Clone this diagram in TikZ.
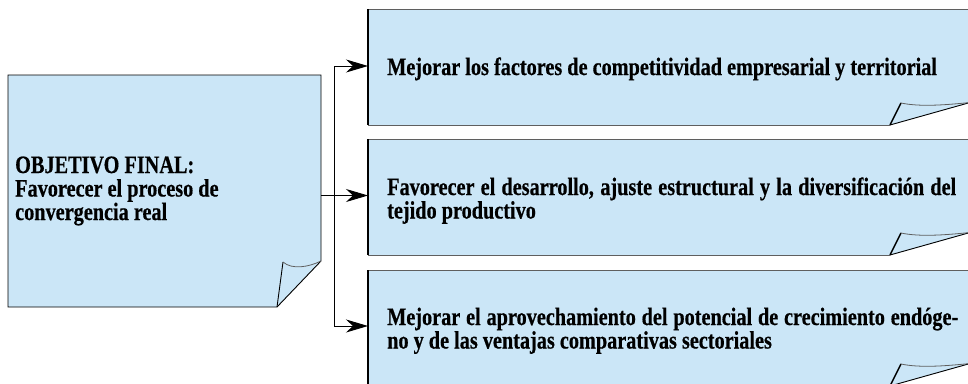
\documentclass[tikz,border=0pt]{standalone}
\usepackage{fontspec}
\setmainfont{Liberation Serif}[FakeStretch=0.81, BoldFeatures={FakeBold=0.5}]
\usetikzlibrary{arrows.meta}
\definecolor{boxfill}{RGB}{203,230,247}
\definecolor{edgegray}{RGB}{95,95,95}
\tikzset{
  pagefill/.style={fill=boxfill},
  edgethin/.style={draw=edgegray, line width=0.7pt},
  edgedark/.style={draw=black, line width=0.9pt},
  edgethick/.style={draw=black, line width=1.4pt},
  curl/.style={draw=edgegray, line width=0.8pt},
  conn/.style={draw=black, line width=0.9pt},
  arr/.style={conn, -{Stealth[length=22pt,width=13pt,inset=7pt]}},
  txt/.style={inner sep=0pt, anchor=base west, text=black,
    font=\bfseries\fontsize{25pt}{23.5pt}\selectfont},
}
\begin{document}
\begin{tikzpicture}[x=1pt,y=-1pt]
\useasboundingbox (0,0) rectangle (968,383);

% left sheet
\fill[pagefill] (8,75) -- (321,75) -- (321,261) -- (277,307) -- (8,307) -- cycle;
\draw[edgedark] (277,307) -- (8,307) -- (8,75) -- (321,75) -- (321,261) -- (277,307);
\draw[edgedark] (277,307) -- (283,262);
\draw[curl] (283,262) .. controls (292,270) and (309,267) .. (321,261);

% right sheets
\foreach \dy in {0,130,261}{
  \begin{scope}[shift={(0,\dy)}]
    \fill[pagefill] (368,9) -- (970,9) -- (970,103) -- (890,125) -- (368,125) -- cycle;
    \draw[edgethin] (368,9) -- (970,9);
    \draw[edgethin] (368,125) -- (890,125);
    \draw[edgethick] (368,9) -- (368,125);
    \draw[edgedark] (890,125) -- (970,102.5);
    \draw[edgethick] (890,125) -- (901,103);
    \draw[curl] (901,103) .. controls (920,107) and (945,105) .. (970,102.5);
  \end{scope}
}

% texts
\node[txt] (goal) at (15,173) {\parbox[t]{300pt}{OBJETIVO FINAL:\\Favorecer el proceso de\\convergencia real}};
\node[txt] (obj1) at (387,75) {Mejorar los factores de competitividad empresarial y territorial};
\node[txt] (obj2) at (387,195) {\parbox[t]{575pt}{\makebox[569pt][s]{Favorecer el desarrollo, ajuste estructural y la diversificación del}\\tejido productivo}};
\node[txt] (obj3) at (387,325) {\parbox[t]{575pt}{\makebox[571pt][s]{Mejorar el aprovechamiento del potencial de crecimiento endóge-}\\no y de las ventajas comparativas sectoriales}};

% connectors
\coordinate (gout) at (321,195.5);
\coordinate (split) at (334,195.5);
\coordinate (in1) at (368,66);
\coordinate (in2) at (368,195.5);
\coordinate (in3) at (368,326);
\draw[arr] (gout) -- (in2);
\draw[arr] (split) |- (in1);
\draw[arr] (split) |- (in3);
\end{tikzpicture}
\end{document}
